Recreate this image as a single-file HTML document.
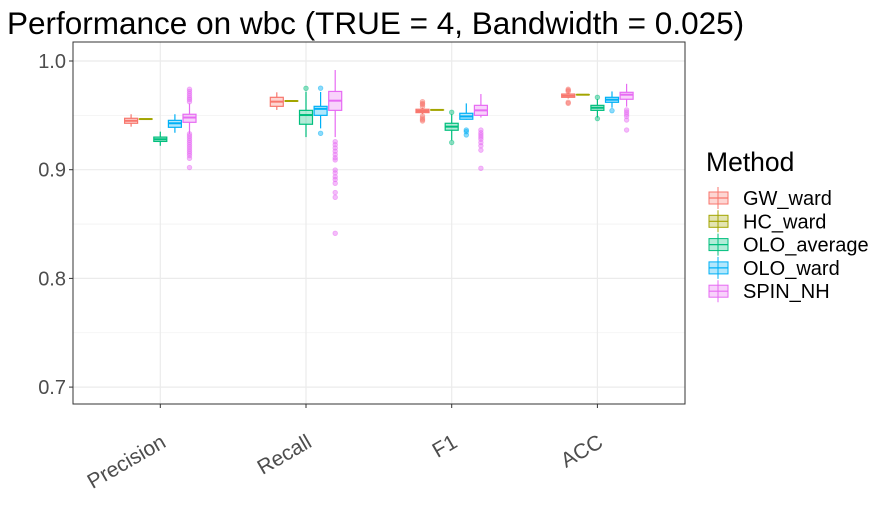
<!DOCTYPE html>
<html><head><meta charset="utf-8"><style>
body{margin:0;background:#fff}
svg{display:block;font-family:"Liberation Sans",Arial,sans-serif}
</style></head><body>
<svg id="chart" width="891" height="508" xmlns="http://www.w3.org/2000/svg">
<text x="7" y="34" font-size="31.5" fill="#000">Performance on wbc (TRUE = 4, Bandwidth = 0.025)</text>
<rect x="73" y="42" width="612" height="362" fill="#fff"/>
<g id="grid"></g>
<g id="marks"></g>
<rect x="73" y="42" width="612" height="362" fill="none" stroke="#333" stroke-width="1"/>
<g id="axes"></g>
<g id="legend">
<text x="706" y="171" font-size="26.5" fill="#000">Method</text>
</g>
</svg>
<script>
const categories = ["Precision","Recall","F1","ACC"];
const methods = ["GW_ward","HC_ward","OLO_average","OLO_ward","SPIN_NH"];
const colors = ["#F8766D","#A3A500","#00BF7D","#00B0F6","#E76BF3"];
const yTicks = [0.7,0.8,0.9,1.0];
const yTickLabels = ["0.7","0.8","0.9","1.0"];
// [lowWhisker, q1, median, q3, highWhisker] per category per method
const statsGW = [[0.9396,0.9427,0.945,0.9473,0.951],[0.955,0.9583,0.9626,0.9666,0.9712],[0.951,0.9525,0.954,0.9556,0.957],[0.9655,0.9666,0.968,0.9696,0.971]];
const statsHC = [[0.9466,0.9466,0.9466,0.9466,0.9466],[0.9632,0.9632,0.9632,0.9632,0.9632],[0.955,0.955,0.955,0.955,0.955],[0.969,0.969,0.969,0.969,0.969]];
const statsOA = [[0.922,0.926,0.928,0.930,0.935],[0.930,0.9418,0.9503,0.9546,0.9718],[0.927,0.9363,0.9396,0.9427,0.951],[0.948,0.9546,0.957,0.9592,0.965]];
const statsOW = [[0.934,0.939,0.9427,0.9454,0.951],[0.938,0.950,0.956,0.9583,0.9715],[0.946,0.9464,0.949,0.9519,0.961],[0.957,0.962,0.9644,0.9666,0.972]];
const statsSP = [[0.933,0.9436,0.948,0.951,0.961],[0.93,0.9546,0.9635,0.972,0.9917],[0.948,0.950,0.9546,0.9592,0.9696],[0.958,0.9648,0.969,0.9712,0.979]];
const outGW = [[],[],[0.9626,0.961,0.96,0.958,0.9494,0.9475,0.946,0.9448],[0.974,0.973,0.972,0.962,0.961]];
const outHC = [[],[],[],[]];
const outOA = [[],[0.9749],[0.9528,0.925],[0.9666,0.947]];
const outOW = [[],[0.975,0.9335],[0.9365,0.935,0.932],[0.9543]];
const outSP = [[0.974,0.972,0.970,0.968,0.966,0.9645,0.9625,0.933,0.931,0.929,0.927,0.925,0.923,0.921,0.919,0.917,0.915,0.913,0.9105,0.902],
  [0.9258,0.923,0.920,0.917,0.914,0.911,0.909,0.8997,0.897,0.8935,0.891,0.8875,0.879,0.8746,0.8415],
  [0.9365,0.934,0.932,0.930,0.928,0.925,0.922,0.918,0.9013],
  [0.955,0.953,0.951,0.949,0.9457,0.9365]];
const allStats=[statsGW,statsHC,statsOA,statsOW,statsSP];
const allOut=[outGW,outHC,outOA,outOW,outSP];

const NS="http://www.w3.org/2000/svg";
const y = v => 61 + (1 - v) * 1087;
const xCat = i => 160.3 + i * 145.7;
const xDodge = (i,m) => xCat(i) + (m - 2) * 14.6;
function mk(tag, attrs, parent){const e=document.createElementNS(NS,tag);for(const k in attrs)e.setAttribute(k,attrs[k]);parent.appendChild(e);return e;}
const grid=document.getElementById('grid'), marks=document.getElementById('marks'), axes=document.getElementById('axes'), legend=document.getElementById('legend');
[0.75,0.85,0.95].forEach(v=>{const l=mk('line',{x1:73,x2:685,y1:y(v),y2:y(v),stroke:'#f2f2f2','stroke-width':0.8},grid);

});
yTicks.forEach((v,i)=>{const l=mk('line',{x1:73,x2:685,y1:y(v),y2:y(v),stroke:'#ebebeb','stroke-width':1.2},grid);


mk('line',{x1:69,x2:73,y1:y(v),y2:y(v),stroke:'#333'},axes);
const t=mk('text',{x:66,y:y(v)+7,'text-anchor':'end','font-size':20,fill:'#4d4d4d'},axes);t.textContent=yTickLabels[i];

});
categories.forEach((c,i)=>{const l=mk('line',{x1:xCat(i),x2:xCat(i),y1:42,y2:404,stroke:'#ebebeb','stroke-width':1.2},grid);


mk('line',{x1:xCat(i),x2:xCat(i),y1:404,y2:408,stroke:'#333'},axes);
const t=mk('text',{x:0,y:0,'text-anchor':'end','font-size':21,fill:'#4d4d4d',transform:`translate(${xCat(i)+7},${446}) rotate(-30)`},axes);t.textContent=c;

});
allStats.forEach((st,m)=>{const col=colors[m];
 st.forEach((s,i)=>{const cx=xDodge(i,m),w=13;
  const g=mk('g',{},marks);
  
  
  allOut[m][i].forEach(o=>{mk('circle',{cx:cx,cy:y(o),r:2.3,fill:col,'fill-opacity':0.45,stroke:col,'stroke-opacity':0.5,'stroke-width':0.8},g);});
  mk('line',{x1:cx,x2:cx,y1:y(s[4]),y2:y(s[3]),stroke:col,'stroke-width':1.2},g);
  mk('line',{x1:cx,x2:cx,y1:y(s[1]),y2:y(s[0]),stroke:col,'stroke-width':1.2},g);
  const h=Math.max(y(s[1])-y(s[3]),0.01);
  mk('rect',{x:cx-w/2,y:y(s[3]),width:w,height:h,fill:col,'fill-opacity':0.3,stroke:col,'stroke-width':1.2},g);
  mk('line',{x1:cx-w/2,x2:cx+w/2,y1:y(s[2]),y2:y(s[2]),stroke:col,'stroke-width':2},g);
 });});
methods.forEach((m,k)=>{const cy=198+k*23.3,col=colors[k];
 const g=mk('g',{},legend);
 
 
 mk('line',{x1:718,x2:718,y1:cy-11,y2:cy+11,stroke:col,'stroke-width':1},g);
 mk('rect',{x:709,y:cy-6,width:19,height:12,fill:col,'fill-opacity':0.3,stroke:col,'stroke-width':1},g);
 mk('line',{x1:709,x2:728,y1:cy,y2:cy,stroke:col,'stroke-width':1.2},g);
 const t=mk('text',{x:743,y:cy+7,'font-size':20,fill:'#000'},g);t.textContent=m;});
</script>
</body></html>
